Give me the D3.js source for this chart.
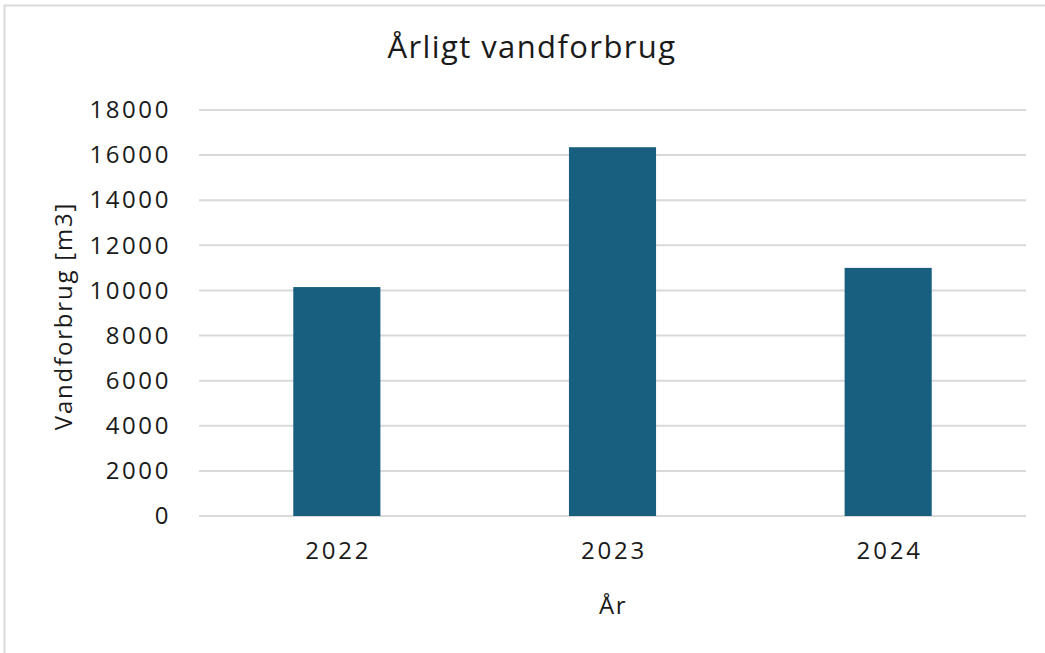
<!DOCTYPE html>
<html>
<head>
<meta charset="utf-8">
<script src="https://cdn.jsdelivr.net/npm/d3@7"></script>
<style>
  body { margin: 0; background: #fff; }
  text { font-family: "Open Sans", sans-serif; fill: #1a1a1a; }
</style>
</head>
<body>
<div id="chart"></div>
<script>
var years = ["2022", "2023", "2024"];
var usage = [10150, 16350, 11000];
var yTicks = [0, 2000, 4000, 6000, 8000, 10000, 12000, 14000, 16000, 18000];

var width = 1045, height = 653;
var plotLeft = 199, plotRight = 1026, plotTop = 110, plotBottom = 516;

var svg = d3.select("#chart").append("svg")
    .attr("width", width)
    .attr("height", height);

// outer chart frame, only top + left edges visible in the crop
svg.append("rect")
    .attr("x", 4.5).attr("y", 5.5)
    .attr("width", width + 10).attr("height", height + 10)
    .style("fill", "none")
    .style("stroke", "#d9d9d9")
    .style("stroke-width", 2);

var x = d3.scaleBand()
    .domain(years)
    .range([plotLeft, plotRight])
    .paddingInner(0.684)
    .paddingOuter(0.342);

var y = d3.scaleLinear()
    .domain([0, 18000])
    .range([plotBottom, plotTop]);

// gridlines
svg.append("g")
    .selectAll("line")
    .data(yTicks)
    .enter().append("line")
    .attr("x1", plotLeft).attr("x2", plotRight)
    .attr("y1", function(d){ return y(d); })
    .attr("y2", function(d){ return y(d); })
    .style("stroke", "#d9d9d9")
    .style("stroke-width", 2);

// bars
svg.append("g")
    .selectAll("rect")
    .data(usage)
    .enter().append("rect")
    .attr("x", function(d, i){ return x(years[i]); })
    .attr("y", function(d){ return y(d); })
    .attr("width", x.bandwidth())
    .attr("height", function(d){ return plotBottom - y(d); })
    .style("fill", "#175e7f");

// y axis labels
var yAxis = d3.axisLeft(y).tickValues(yTicks).tickSize(0).tickPadding(28)
    .tickFormat(d3.format("d"));
var gy = svg.append("g")
    .attr("transform", "translate(" + plotLeft + ",0)")
    .call(yAxis);
gy.select(".domain").remove();
gy.selectAll("text")
    .style("font-size", "24px")
    .style("letter-spacing", "2.6px")
    .style("font-family", "'Open Sans', sans-serif")
    .style("fill", "#1a1a1a");

// x axis labels
var xAxis = d3.axisBottom(x).tickSize(0).tickPadding(26);
var gx = svg.append("g")
    .attr("transform", "translate(0," + plotBottom + ")")
    .call(xAxis);
gx.select(".domain").remove();
gx.selectAll("text")
    .attr("dx", 1.5)
    .style("font-size", "24px")
    .style("letter-spacing", "2.8px")
    .style("font-family", "'Open Sans', sans-serif")
    .style("fill", "#1a1a1a");

// titles
svg.append("text")
    .attr("x", 532).attr("y", 58)
    .attr("text-anchor", "middle")
    .style("font-size", "31px")
    .style("letter-spacing", "1.4px")
    .text("Årligt vandforbrug");

svg.append("text")
    .attr("x", 613).attr("y", 614)
    .attr("text-anchor", "middle")
    .style("font-size", "24px")
    .style("letter-spacing", "1.5px")
    .text("År");

svg.append("text")
    .attr("transform", "translate(72,316) rotate(-90)")
    .attr("text-anchor", "middle")
    .style("font-size", "24px")
    .style("letter-spacing", "1.8px")
    .text("Vandforbrug [m3]");
</script>
</body>
</html>
